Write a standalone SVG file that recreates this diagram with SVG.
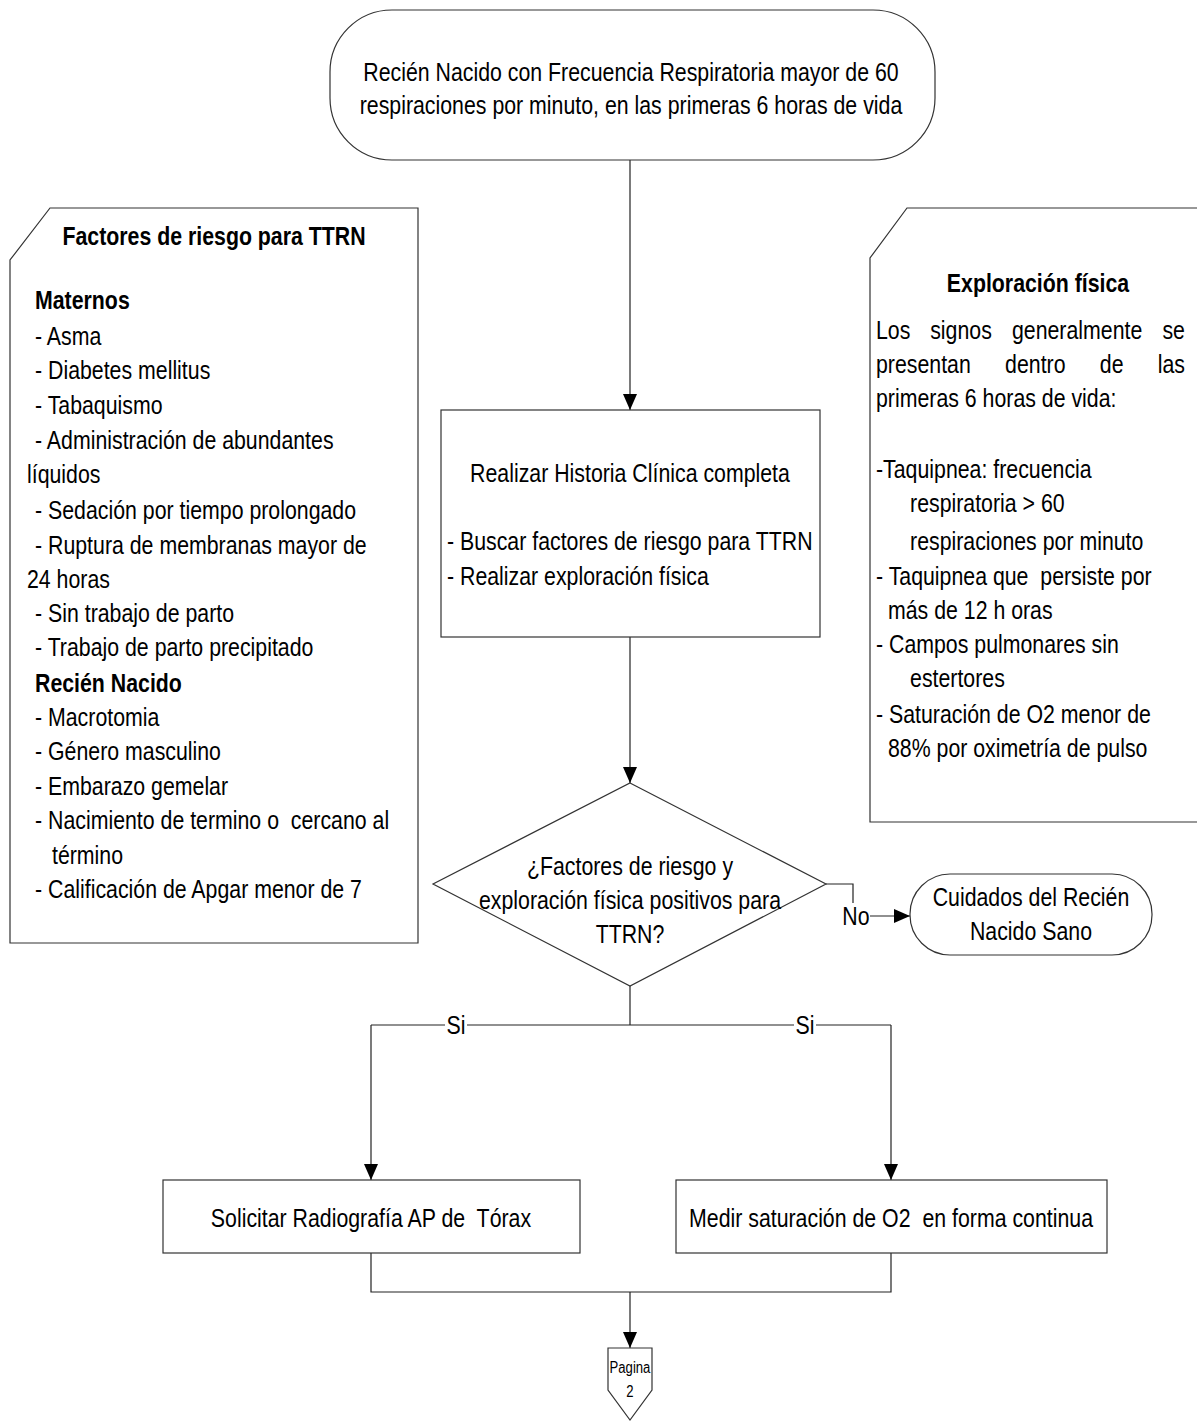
<svg xmlns="http://www.w3.org/2000/svg" width="1197" height="1424" viewBox="0 0 1197 1424">
<style>
text{font-family:"Liberation Sans",Arial,sans-serif;font-size:26px;fill:#000}
.b{font-weight:bold}
.c{text-anchor:middle}
.shape{fill:#fff;stroke:#333;stroke-width:1.2}
.ln{fill:none;stroke:#222;stroke-width:1.2}
.lbl{fill:#fff;stroke:none}
</style>
<defs>
<marker id="ah" markerWidth="16" markerHeight="14" refX="16" refY="7" orient="auto" markerUnits="userSpaceOnUse">
<path d="M0,0 L16,7 L0,14 z" fill="#000"/>
</marker>
</defs>
<rect width="1197" height="1424" fill="#fff"/>

<g id="connectors">
<path class="ln" d="M630,160 V410" marker-end="url(#ah)"/>
<path class="ln" d="M630,637 V783" marker-end="url(#ah)"/>
<path class="ln" d="M826,884 H853 V916 H910" marker-end="url(#ah)"/>
<path class="ln" d="M630,986 V1025"/>
<path class="ln" d="M371,1025 H891"/>
<path class="ln" d="M371,1025 V1180" marker-end="url(#ah)"/>
<path class="ln" d="M891,1025 V1180" marker-end="url(#ah)"/>
<path class="ln" d="M371,1253 V1292 H891 V1253"/>
<path class="ln" d="M630,1292 V1348" marker-end="url(#ah)"/>
<rect class="lbl" x="843" y="903" width="27" height="26"/>
<rect class="lbl" x="445" y="1012" width="22" height="26"/>
<rect class="lbl" x="794" y="1012" width="22" height="26"/>
<g transform="scale(0.82,1)">
<text x="1043.9" y="925" class="c">No</text>
<text x="556.1" y="1034" class="c">Si</text>
<text x="981.7" y="1034" class="c">Si</text>
</g>
</g>

<g id="start">
<rect class="shape" x="330" y="10" width="605" height="150" rx="62" ry="62"/>
<g transform="scale(0.82,1)">
<text x="769.5" y="81" class="c">Recién Nacido con Frecuencia Respiratoria mayor de 60</text>
<text x="769.5" y="114" class="c">respiraciones por minuto, en las primeras 6 horas de vida</text>
</g>
</g>

<g id="riesgo">
<path class="shape" d="M50,208 H418 V943 H10 V260 Z"/>
<g transform="scale(0.82,1)">
<text x="261" y="245" class="c b">Factores de riesgo para TTRN</text>
<text x="42.7" y="309" class="b">Maternos</text>
<text x="42.7" y="345">- Asma</text>
<text x="42.7" y="379">- Diabetes mellitus</text>
<text x="42.7" y="414">- Tabaquismo</text>
<text x="42.7" y="449">- Administración de abundantes</text>
<text x="32.9" y="483">líquidos</text>
<text x="42.7" y="519">- Sedación por tiempo prolongado</text>
<text x="42.7" y="554">- Ruptura de membranas mayor de</text>
<text x="32.9" y="588">24 horas</text>
<text x="42.7" y="622">- Sin trabajo de parto</text>
<text x="42.7" y="656">- Trabajo de parto precipitado</text>
<text x="42.7" y="692" class="b">Recién Nacido</text>
<text x="42.7" y="726">- Macrotomia</text>
<text x="42.7" y="760">- Género masculino</text>
<text x="42.7" y="795">- Embarazo gemelar</text>
<text x="42.7" y="829" xml:space="preserve">- Nacimiento de termino o  cercano al</text>
<text x="63.4" y="864">término</text>
<text x="42.7" y="898">- Calificación de Apgar menor de 7</text>
</g>
</g>

<g id="exploracion">
<path class="shape" d="M907,208 H1199 V822 H870 V258 Z"/>
<g transform="scale(0.82,1)">
<text x="1265.9" y="292" class="c b">Exploración física</text>
<text y="339"><tspan x="1068.3">Los</tspan><tspan x="1134.4">signos</tspan><tspan x="1234.1">generalmente</tspan><tspan x="1445.1" text-anchor="end">se</tspan></text>
<text y="373"><tspan x="1068.3">presentan</tspan><tspan x="1225.7">dentro</tspan><tspan x="1341.2">de</tspan><tspan x="1445.1" text-anchor="end">las</tspan></text>
<text x="1068.3" y="407">primeras 6 horas de vida:</text>
<text x="1068.3" y="478">-Taquipnea: frecuencia</text>
<text x="1109.8" y="512">respiratoria &gt; 60</text>
<text x="1109.8" y="550">respiraciones por minuto</text>
<text x="1068.3" y="585" xml:space="preserve">- Taquipnea que  persiste por</text>
<text x="1082.9" y="619">más de 12 h oras</text>
<text x="1068.3" y="653">- Campos pulmonares sin</text>
<text x="1109.8" y="687">estertores</text>
<text x="1068.3" y="723">- Saturación de O2 menor de</text>
<text x="1082.9" y="757">88% por oximetría de pulso</text>
</g>
</g>

<g id="historia">
<rect class="shape" x="441" y="410" width="379" height="227"/>
<g transform="scale(0.82,1)">
<text x="768.3" y="482" class="c">Realizar Historia Clínica completa</text>
<text x="545.1" y="550">- Buscar factores de riesgo para TTRN</text>
<text x="545.1" y="585">- Realizar exploración física</text>
</g>
</g>

<g id="decision">
<path class="shape" d="M630,783 L826,884 L630,986 L433,884 Z"/>
<g transform="scale(0.82,1)">
<text x="768.3" y="875" class="c">¿Factores de riesgo y</text>
<text x="768.3" y="909" class="c">exploración física positivos para</text>
<text x="768.3" y="943" class="c">TTRN?</text>
</g>
</g>

<g id="sano">
<rect class="shape" x="910" y="874" width="242" height="81" rx="40" ry="40"/>
<g transform="scale(0.82,1)">
<text x="1257.3" y="906" class="c">Cuidados del Recién</text>
<text x="1257.3" y="940" class="c">Nacido Sano</text>
</g>
</g>

<g id="radiografia">
<rect class="shape" x="163" y="1180" width="417" height="73"/>
<g transform="scale(0.82,1)">
<text x="452.4" y="1227" class="c" xml:space="preserve">Solicitar Radiografía AP de  Tórax</text>
</g>
</g>

<g id="saturacion">
<rect class="shape" x="676" y="1180" width="431" height="73"/>
<g transform="scale(0.82,1)">
<text x="1086.6" y="1227" class="c" xml:space="preserve">Medir saturación de O2  en forma continua</text>
</g>
</g>

<g id="pagina2">
<path class="shape" d="M608,1348 H652 V1390 L630,1420 L608,1390 Z"/>
<g transform="scale(0.82,1)">
<text x="768.3" y="1373" class="c" style="font-size:16px">Pagina</text>
<text x="768.3" y="1397" class="c" style="font-size:16px">2</text>
</g>
</g>
</svg>
